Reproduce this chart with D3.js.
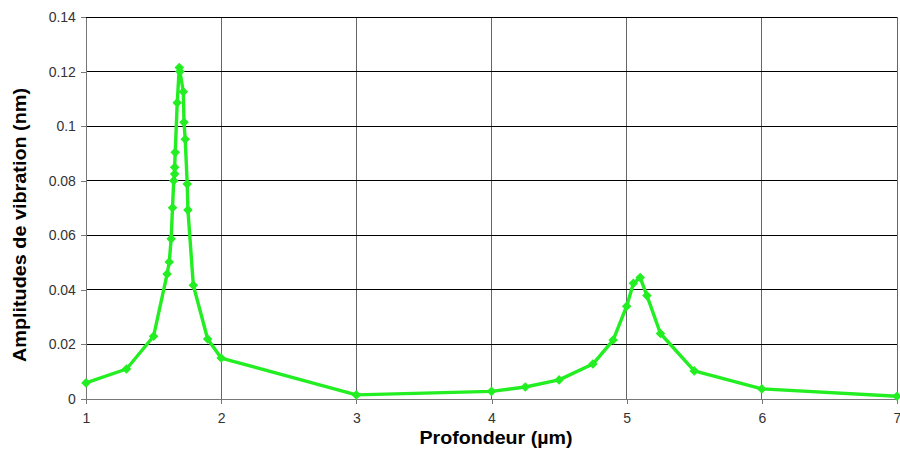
<!DOCTYPE html>
<html><head><meta charset="utf-8">
<script src="https://cdn.jsdelivr.net/npm/d3@7"></script>
<style>body{margin:0;background:#fff}svg{display:block}</style>
</head><body>
<script>
const depth = [1.0,1.3,1.5,1.6,1.616,1.63,1.64,1.649,1.656,1.656,1.66,1.675,1.69,1.695,1.72,1.725,1.734,1.749,1.754,1.794,1.9,2.0,3.0,4.0,4.25,4.5,4.75,4.9,5.0,5.05,5.1,5.15,5.25,5.5,6.0,7.0];
const amplitude = [0.0059,0.011,0.023,0.0458,0.0502,0.0587,0.0701,0.080,0.0825,0.0849,0.0904,0.1086,0.1215,0.1200,0.1126,0.1014,0.0952,0.0788,0.0693,0.0417,0.022,0.015,0.0015,0.0028,0.0044,0.007,0.0128,0.0216,0.034,0.0424,0.0445,0.0379,0.024,0.0103,0.0037,0.001];
const xTicks = [1,2,3,4,5,6,7];
const yTicks = [0,0.02,0.04,0.06,0.08,0.1,0.12,0.14];

const W=900,H=451, L=86,R=897,T=17,B=399;
const FONT="Liberation Sans, Arial, sans-serif";
const GREEN="#22ee22";
const svg=d3.select("body").append("svg").attr("width",W).attr("height",H);
const x=d3.scaleLinear().domain([1,7]).range([L,R]);
const y=d3.scaleLinear().domain([0,0.14]).range([B,T]);

// grid
svg.append("g").selectAll("line").data(xTicks.slice(1)).join("line")
  .attr("x1",d=>x(d)).attr("x2",d=>x(d)).attr("y1",T).attr("y2",B)
  .attr("stroke","#666").attr("stroke-width",1).attr("shape-rendering","crispEdges");
svg.append("g").selectAll("line").data(yTicks.slice(1)).join("line")
  .attr("x1",L).attr("x2",R).attr("y1",d=>y(d)).attr("y2",d=>y(d))
  .attr("stroke","#000").attr("stroke-width",1).attr("shape-rendering","crispEdges");

const fmt=d=>String(+d.toFixed(2));
const ax=svg.append("g").attr("transform",`translate(0,${B})`)
  .call(d3.axisBottom(x).tickValues(xTicks).tickFormat(d=>d).tickSize(5).tickSizeOuter(0));
const ay=svg.append("g").attr("transform",`translate(${L},0)`)
  .call(d3.axisLeft(y).tickValues(yTicks).tickFormat(fmt).tickSize(5).tickSizeOuter(0));
[ax,ay].forEach(g=>{
  g.selectAll("path,line").attr("stroke","#777").attr("shape-rendering","crispEdges");
  g.selectAll("text").attr("font-family",FONT).attr("font-size",14).attr("fill","#333");
});
ax.selectAll("text").attr("dy","1.15em");
ay.selectAll("text").attr("dx","-0.15em");

const pts=depth.map((d,i)=>[d,amplitude[i]]);
svg.append("path").datum(pts)
  .attr("d",d3.line().x(d=>x(d[0])).y(d=>y(d[1])))
  .attr("fill","none").attr("stroke",GREEN).attr("stroke-width",3.4).attr("stroke-linejoin","round");
svg.append("g").selectAll("path").data(pts).join("path")
  .attr("transform",d=>`translate(${x(d[0])},${y(d[1])}) rotate(45)`)
  .attr("d",d3.symbol(d3.symbolSquare,46)())
  .attr("fill",GREEN);

svg.append("text").attr("x",496).attr("y",444).attr("text-anchor","middle")
  .attr("font-family",FONT).attr("font-weight","bold").attr("font-size",19)
  .attr("textLength",153).attr("lengthAdjust","spacingAndGlyphs")
  .text("Profondeur (µm)");
svg.append("text").attr("transform",`translate(26,225) rotate(-90)`).attr("text-anchor","middle")
  .attr("font-family",FONT).attr("font-weight","bold").attr("font-size",19)
  .attr("textLength",274).attr("lengthAdjust","spacingAndGlyphs")
  .text("Amplitudes de vibration (nm)");
</script>
</body></html>
